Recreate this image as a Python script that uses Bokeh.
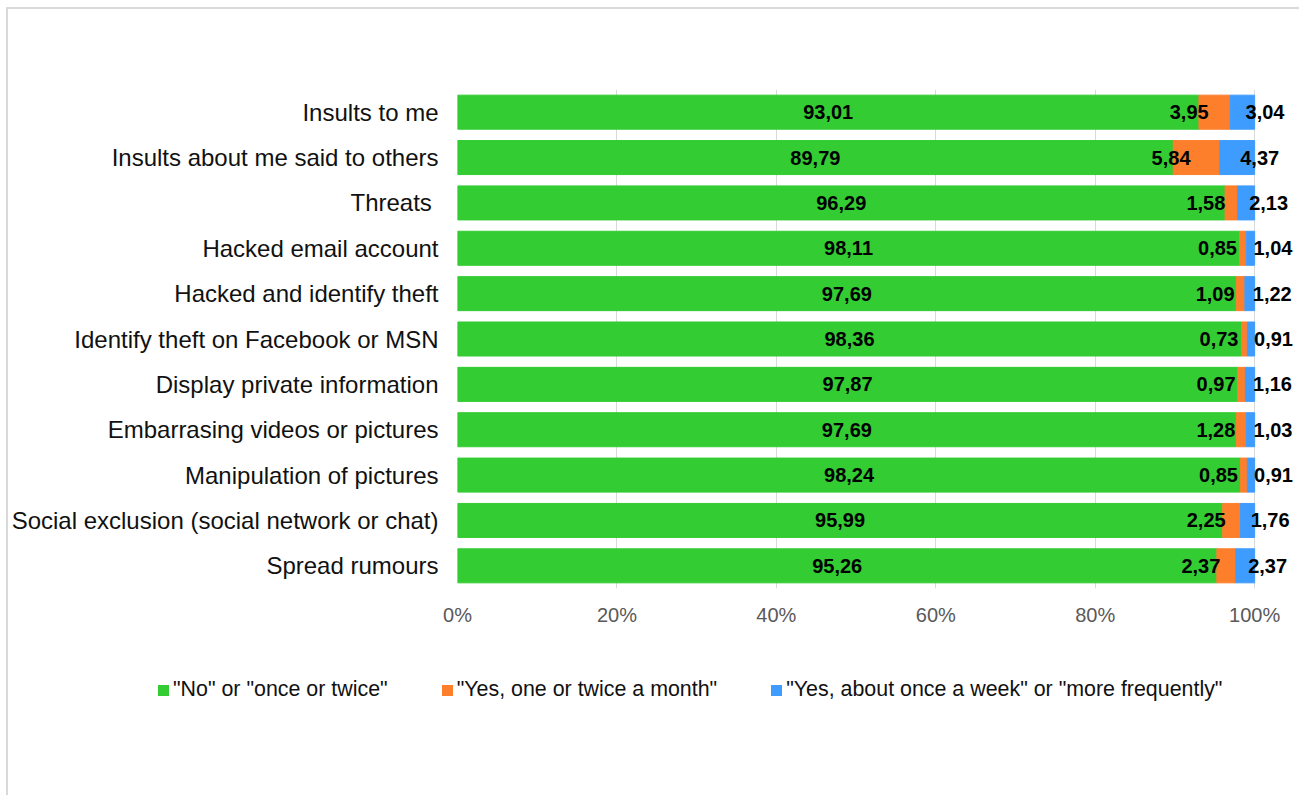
import html
from bokeh.plotting import figure
from bokeh.layouts import column
from bokeh.models import (ColumnDataSource, LabelSet, FixedTicker, FactorRange, Div)
from bokeh.core.properties import value
from bokeh.embed import file_html
from bokeh.resources import INLINE

categories = [
    "Insults to me",
    "Insults about me said to others",
    "Threats ",
    "Hacked email account",
    "Hacked and identify theft",
    "Identify theft on Facebook or MSN",
    "Display private information",
    "Embarrasing videos or pictures",
    "Manipulation of pictures",
    "Social exclusion (social network or chat)",
    "Spread rumours",
]
no_once = [93.01, 89.79, 96.29, 98.11, 97.69, 98.36, 97.87, 97.69, 98.24, 95.99, 95.26]
yes_month = [3.95, 5.84, 1.58, 0.85, 1.09, 0.73, 0.97, 1.28, 0.85, 2.25, 2.37]
yes_week = [3.04, 4.37, 2.13, 1.04, 1.22, 0.91, 1.16, 1.03, 0.91, 1.76, 2.37]
x_ticks = [0, 20, 40, 60, 80, 100]
tick_labels = ["0%", "20%", "40%", "60%", "80%", "100%"]
series_names = ['"No" or "once or twice"',
                '"Yes, one or twice a month"',
                '"Yes, about once a week" or "more frequently"']

GREEN, ORANGE, BLUE = "#33CC33", "#FD7F2C", "#3F9CFF"
COLORS = [GREEN, ORANGE, BLUE]
FONT = "Liberation Sans"


def fmt(v):
    return f"{v:.2f}".replace(".", ",")


g_end = list(no_once)
o_end = [a + b for a, b in zip(no_once, yes_month)]
b_end = [a + b + c for a, b, c in zip(no_once, yes_month, yes_week)]

src = ColumnDataSource(dict(
    cat=categories,
    g_end=g_end, o_end=o_end, b_end=b_end,
    g_mid=[v / 2 for v in no_once],
    o_mid=[g + o / 2 for g, o in zip(no_once, yes_month)],
    b_mid=[e + w / 2 for e, w in zip(o_end, yes_week)],
    g_lab=[fmt(v) for v in no_once],
    o_lab=[fmt(v) for v in yes_month],
    b_lab=[fmt(v) for v in yes_week],
))

# frame extends a little past 100% so that outer labels are not clipped
p = figure(y_range=FactorRange(*reversed(categories)), x_range=(0, 105),
           frame_width=837, frame_height=499,
           min_border_left=440, min_border_right=0,
           min_border_top=80, min_border_bottom=45,
           output_backend="svg", toolbar_location=None)

r1 = p.hbar(y="cat", left=0, right="g_end", height=0.75, color=GREEN, source=src)
r2 = p.hbar(y="cat", left="g_end", right="o_end", height=0.75, color=ORANGE, source=src)
r3 = p.hbar(y="cat", left="o_end", right="b_end", height=0.75, color=BLUE, source=src)

common = dict(y="cat", source=src, text_baseline="middle", text_font=value(FONT),
              text_font_style="bold", text_font_size="20px", text_color="black")
p.add_layout(LabelSet(x="g_mid", text="g_lab", text_align="center", **common))
p.add_layout(LabelSet(x="o_mid", text="o_lab", text_align="right", x_offset=-6, **common))
p.add_layout(LabelSet(x="b_mid", text="b_lab", text_align="left", x_offset=3, **common))

p.xaxis.ticker = FixedTicker(ticks=x_ticks)
p.xaxis.major_label_overrides = dict(zip(x_ticks, tick_labels))
p.xaxis.major_label_text_font = FONT
p.xaxis.major_label_text_font_size = "20px"
p.xaxis.major_label_text_color = "#595959"
p.xaxis.major_label_standoff = 9
p.yaxis.major_label_text_font = FONT
p.yaxis.major_label_text_font_size = "24px"
p.yaxis.major_label_text_color = "#111111"
p.yaxis.major_label_standoff = 13
for ax in (p.xaxis, p.yaxis):
    ax.axis_line_color = None
    ax.major_tick_line_color = None
    ax.minor_tick_line_color = None

p.xgrid.ticker = FixedTicker(ticks=x_ticks)
p.xgrid.grid_line_color = "#d9d9d9"
p.ygrid.visible = False
p.outline_line_color = None

# legend below the chart
items = []
for name, col in zip(series_names, COLORS):
    items.append(
        f'<span style="display:inline-block;width:11px;height:11px;'
        f'background:{col};margin-right:4px;vertical-align:0px"></span>'
        f'<span>{html.escape(name, quote=False)}</span>')
gap = '<span style="display:inline-block;width:54px"></span>'
legend_html = (
    f'<div style="font-family:\'{FONT}\';font-size:21.4px;color:#111111;'
    f'white-space:nowrap;padding:39px 0 0 145px;line-height:24px">'
    + gap.join(items) + '</div>')
leg = Div(text=legend_html, width=1287, height=160)

page = column(p, leg, spacing=0,
              styles={"border": "2px solid #d9d9d9", "margin": "7px 0 0 6px"})

open("out.html", "w").write(file_html(page, INLINE))
